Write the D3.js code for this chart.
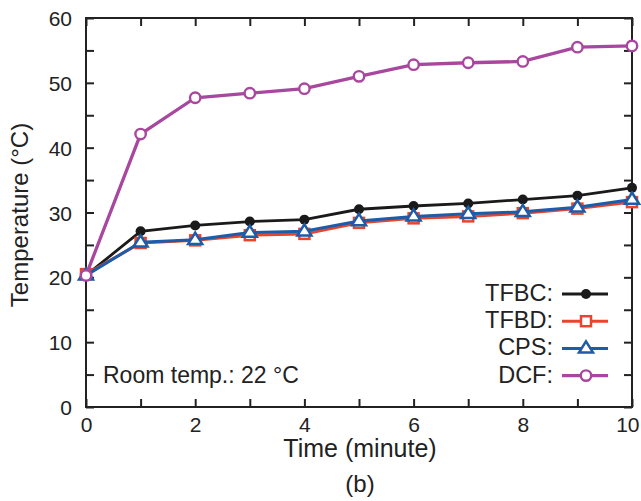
<!DOCTYPE html>
<html><head><meta charset="utf-8">
<script src="https://cdn.jsdelivr.net/npm/d3@7"></script>
<style>body{margin:0;background:#fff;} text{font-family:"Liberation Sans",Arial,sans-serif;fill:#222;}</style>
</head><body><svg id="c" width="641" height="501"></svg>
<script>
const times = [0,1,2,3,4,5,6,7,8,9,10];
const tfbc = [20.3,27.1,28.0,28.6,28.9,30.5,31.0,31.4,32.0,32.6,33.8];
const tfbd = [20.5,25.3,25.7,26.5,26.7,28.4,29.1,29.4,29.9,30.6,31.6];
const cps  = [20.3,25.4,25.8,26.9,27.1,28.7,29.4,29.8,30.1,30.8,32.0];
const dcf  = [20.3,42.1,47.7,48.4,49.1,51.0,52.8,53.1,53.3,55.5,55.7];
const seriesNames = ["TFBC:","TFBD:","CPS:","DCF:"];
const xTickLabels = [0,2,4,6,8,10];
const yTickLabels = [0,10,20,30,40,50,60];

const svg = d3.select("#c");
const L=86,R=632,T=18,B=407;
const x = d3.scaleLinear().domain([0,10]).range([L,R]);
const y = d3.scaleLinear().domain([0,60]).range([B,T]);
const axisCol="#222";

// frame
svg.append("rect").attr("x",L).attr("y",T).attr("width",R-L).attr("height",B-T)
  .attr("fill","none").attr("stroke",axisCol).attr("stroke-width",2);

// axes (inward ticks)
const tk=8;
const gBottom = svg.append("g").attr("transform",`translate(0,${B})`)
  .call(d3.axisBottom(x).tickValues(d3.range(0,11,1)).tickSize(-tk).tickFormat(d=>xTickLabels.includes(d)?d:""));
const gTop = svg.append("g").attr("transform",`translate(0,${T})`)
  .call(d3.axisTop(x).tickValues(d3.range(0,11,1)).tickSize(-tk).tickFormat(""));
const gLeft = svg.append("g").attr("transform",`translate(${L},0)`)
  .call(d3.axisLeft(y).tickValues(d3.range(0,61,5)).tickSize(-tk).tickFormat(d=>yTickLabels.includes(d)?d:""));
const gRight = svg.append("g").attr("transform",`translate(${R},0)`)
  .call(d3.axisRight(y).tickValues(d3.range(0,61,5)).tickSize(-tk).tickFormat(""));
[gBottom,gTop,gLeft,gRight].forEach(g=>{
  g.select(".domain").remove();
  g.selectAll(".tick line").attr("stroke",axisCol).attr("stroke-width",2);
  g.selectAll("text").attr("font-size",21).attr("fill","#222").attr("font-family","Liberation Sans, Arial, sans-serif");
});
gBottom.selectAll("text").attr("dy",0).attr("y",25);
gBottom.selectAll(".tick").filter(d=>d===10).select("text").attr("text-anchor","end").attr("x",7);
gLeft.selectAll("text").attr("x",-14).attr("dy","0.36em");

// titles
svg.append("text").attr("x",360).attr("y",457).attr("text-anchor","middle").attr("font-size",25).text("Time (minute)");
svg.append("text").attr("transform",`translate(28,215) rotate(-90)`).attr("text-anchor","middle").attr("font-size",24).text("Temperature (°C)");
svg.append("text").attr("x",360).attr("y",492).attr("text-anchor","middle").attr("font-size",24).text("(b)");
svg.append("text").attr("x",103).attr("y",383).attr("font-size",23).text("Room temp.: 22 °C");

const data = [
  {name:seriesNames[0],vals:tfbc,color:"#1a1a1a",w:2.8,mk:"dot"},
  {name:seriesNames[1],vals:tfbd,color:"#e8452c",w:3,mk:"square"},
  {name:seriesNames[2],vals:cps,color:"#1d5ca8",w:3,mk:"tri"},
  {name:seriesNames[3],vals:dcf,color:"#a8479e",w:3.3,mk:"circ"}
];
const line = d3.line().x((d,i)=>x(times[i])).y(d=>y(d));
function marker(g,type,cx,cy,color){
  if(type==="dot") g.append("circle").attr("cx",cx).attr("cy",cy).attr("r",5).attr("fill",color);
  else if(type==="square") g.append("rect").attr("x",cx-5).attr("y",cy-5).attr("width",10).attr("height",10).attr("fill","#fff").attr("stroke",color).attr("stroke-width",2.5);
  else if(type==="tri"){
    const s=7;
    g.append("path").attr("d",`M${cx},${cy-s}L${cx+s*1.0},${cy+s*0.6}L${cx-s*1.0},${cy+s*0.6}Z`).attr("fill","#fff").attr("stroke",color).attr("stroke-width",2.5);
  } else g.append("circle").attr("cx",cx).attr("cy",cy).attr("r",5.2).attr("fill","#fff").attr("stroke",color).attr("stroke-width",2.4);
}
data.forEach(s=>{
  const g=svg.append("g");
  g.append("path").attr("d",line(s.vals)).attr("fill","none").attr("stroke",s.color).attr("stroke-width",s.w);
  s.vals.forEach((v,i)=>marker(g,s.mk,x(times[i]),y(v),s.color));
});

// legend
data.forEach((s,i)=>{
  const ly=294+i*27.2;
  svg.append("text").attr("x",553).attr("y",ly+7).attr("text-anchor","end").attr("font-size",23.5).text(s.name);
  const g=svg.append("g");
  g.append("line").attr("x1",562).attr("x2",608).attr("y1",ly).attr("y2",ly).attr("stroke",s.color).attr("stroke-width",s.w);
  marker(g,s.mk,586,ly,s.color);
});
</script></body></html>
